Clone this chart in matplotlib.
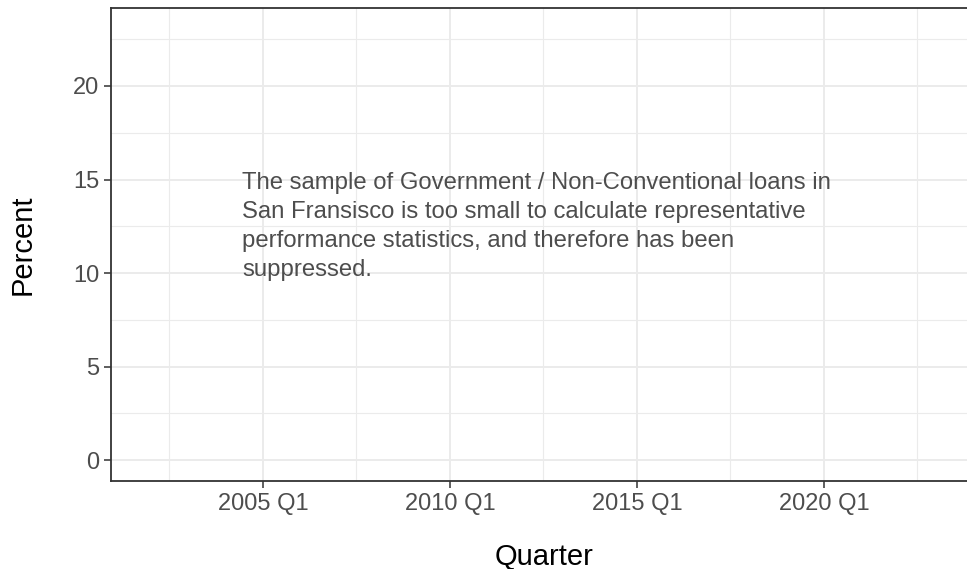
import matplotlib
matplotlib.use("Agg")
from matplotlib import pyplot as plt
from matplotlib.ticker import FixedLocator

plt.rcParams['font.family'] = ['Liberation Sans', 'DejaVu Sans']

# axis ranges (quarters expressed as decimal years)
x_limits = [2000.94, 2024.12]
y_limits = [-1.12, 24.17]

x_tick_pos = [2005.0, 2010.0, 2015.0, 2020.0]
x_tick_labels = ['2005 Q1', '2010 Q1', '2015 Q1', '2020 Q1']
x_minor_pos = [2002.5, 2007.5, 2012.5, 2017.5, 2022.5]

y_tick_pos = [0, 5, 10, 15, 20]
y_tick_labels = ['0', '5', '10', '15', '20']
y_minor_pos = [2.5, 7.5, 12.5, 17.5, 22.5]

note_x = 2004.44
note_y = 12.5
note_text = ("The sample of Government / Non-Conventional loans in\n"
             "San Fransisco is too small to calculate representative\n"
             "performance statistics, and therefore has been\n"
             "suppressed.")

fig = plt.figure(figsize=(9.67, 5.69), dpi=100)
# the panel runs just past the right edge of the picture, as in the original
ax = fig.add_axes([111 / 967, 1 - 481 / 569, (978 - 111) / 967, (481 - 8) / 569])

ax.set_xlim(x_limits)
ax.set_ylim(y_limits)

ax.xaxis.set_major_locator(FixedLocator(x_tick_pos))
ax.set_xticklabels(x_tick_labels)
ax.xaxis.set_minor_locator(FixedLocator(x_minor_pos))
ax.yaxis.set_major_locator(FixedLocator(y_tick_pos))
ax.set_yticklabels(y_tick_labels)
ax.yaxis.set_minor_locator(FixedLocator(y_minor_pos))

ax.grid(which='major', color='#EBEBEB', linewidth=1.4)
ax.grid(which='minor', color='#EBEBEB', linewidth=0.8)
ax.set_axisbelow(True)

for side in ['left', 'top', 'bottom', 'right']:
    ax.spines[side].set_color('#333333')
    ax.spines[side].set_linewidth(1.3)

ax.tick_params(which='major', length=5, width=1.1, color='#333333',
               labelcolor='#4D4D4D', labelsize=17, pad=3.5)
ax.tick_params(which='minor', length=0)

ax.set_xlabel('Quarter', fontsize=21, color='black', labelpad=20)
ax.set_ylabel('Percent', fontsize=21, color='black', labelpad=26)

ax.text(note_x, note_y, note_text, ha='left', va='center',
        fontsize=17.2, color='#4D4D4D', linespacing=1.42)

plt.savefig('out.png', dpi=100)
